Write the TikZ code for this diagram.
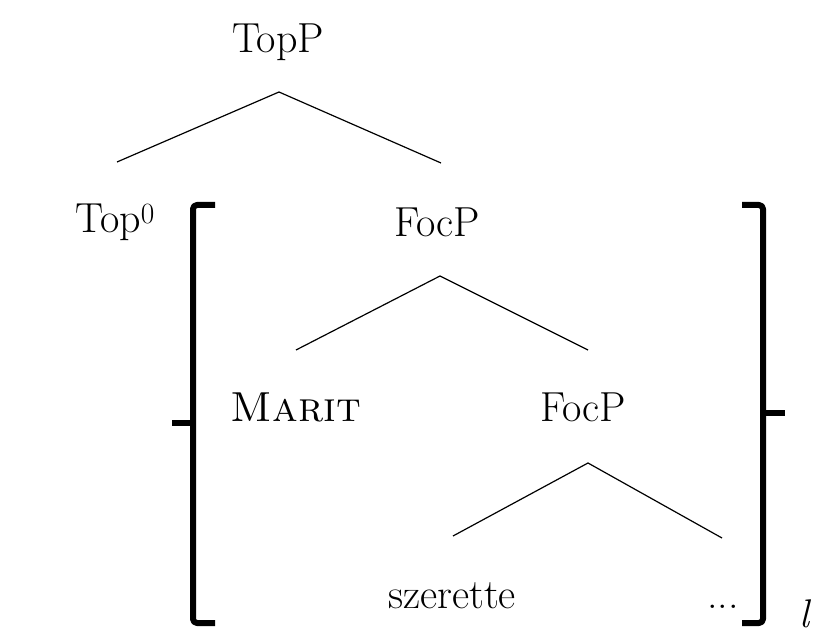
\documentclass[tikz,border=0pt]{standalone}
\usetikzlibrary{calc}
\begin{document}
\begin{tikzpicture}[x=1pt,y=-1pt,
  lbl/.style={anchor=base,inner sep=0pt,font=\fontsize{42}{46}\selectfont},
  idxlbl/.style={anchor=base,inner sep=0pt,font=\fontsize{40}{44}\selectfont\itshape},
  branch/.style={line width=1.2pt},
  brk/.style={line width=6pt,line join=round,rounded corners=4pt}]
\useasboundingbox (0,0) rectangle (828,636);

% node labels
\node[lbl] (topp)  at (278,53)  {TopP};
\node[lbl] (top0)  at (115,233) {Top\textsuperscript{0}};
\node[lbl] (foc1)  at (437,237) {FocP};
\node[lbl] (marit) at (296,422) {\textsc{Marit}};
\node[lbl] (foc2)  at (583,422) {FocP};
\node[lbl] (sz)    at (452,608) {szerette};
\node[lbl] (dots)  at (723,608) {...};

% branch end points
\coordinate (a1) at (279,92);
\coordinate (l1) at (117,162);
\coordinate (r1) at (441,163);
\coordinate (a2) at (440,276);
\coordinate (l2) at (296,350);
\coordinate (r2) at (588,350);
\coordinate (a3) at (588,463);
\coordinate (l3) at (453,536);
\coordinate (r3) at (722,538);

\draw[branch] (l1) -- (a1) -- (r1);
\draw[branch] (l2) -- (a2) -- (r2);
\draw[branch] (l3) -- (a3) -- (r3);

% brackets around the FocP constituent
\draw[brk] (215,205) -- (193,205) -- (193,623) -- (215,623);
\draw[line width=6pt] (193,423) -- (172,423);
\draw[brk] (742,205) -- (763,205) -- (763,623) -- (742,623);
\draw[line width=6pt] (763,413) -- (785,413);

% index
\node[idxlbl] (idx) at (804,627) {l};
\end{tikzpicture}
\end{document}
